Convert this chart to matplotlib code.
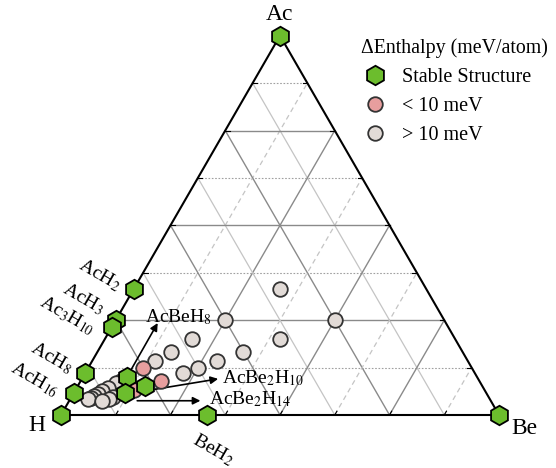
import numpy as np
import matplotlib.pyplot as plt
from matplotlib.lines import Line2D
from matplotlib.transforms import offset_copy

plt.rcParams['font.family'] = 'Liberation Serif'
plt.rcParams['mathtext.fontset'] = 'stix'

S = np.sqrt(3) / 2

# compositions as atom counts (Ac, Be, H)
stable_labels = ['Ac', 'Be', 'H', r'BeH$_2$', r'AcH$_2$', r'AcH$_3$', r'Ac$_3$H$_{10}$',
                 r'AcH$_8$', r'AcH$_{16}$', r'AcBeH$_8$', r'AcBe$_2$H$_{10}$', r'AcBe$_2$H$_{14}$']
stable_comp = [(1, 0, 0), (0, 1, 0), (0, 0, 1), (0, 1, 2), (1, 0, 2), (1, 0, 3), (3, 0, 10),
               (1, 0, 8), (1, 0, 16), (1, 1, 8), (1, 2, 10), (1, 2, 14)]

# metastable, within 10 meV/atom of the hull
near_comp = [(1, 1, 6), (1, 2, 8), (1, 2, 12)]

# above hull by more than 10 meV/atom
far_comp = [(1, 1, 1), (1, 1, 2), (1, 2, 1), (1, 1, 3), (1, 2, 2), (1, 2, 3), (1, 2, 4),
            (1, 2, 5), (1, 2, 6), (1, 1, 4), (1, 1, 5), (1, 1, 9), (1, 1, 10), (1, 1, 12),
            (1, 1, 14), (1, 1, 16), (1, 1, 18), (1, 1, 20), (1, 1, 22), (1, 2, 18),
            (1, 2, 20), (1, 2, 24)]

# label placement: (dx, dy) in points from the marker, rotation, ha
label_style = {
    'Ac': ((0, 15), 0, 'center'),
    'Be': ((18, -9.5), 0, 'center'),
    'H': ((-17.5, -7.5), 0, 'center'),
    r'BeH$_2$': ((-11.5, -20), -30, 'left'),
    r'AcH$_2$': ((-12.5, -1.5), -30, 'right'),
    r'AcH$_3$': ((-11.5, 4.5), -30, 'right'),
    r'Ac$_3$H$_{10}$': ((-15, -5.5), -30, 'right'),
    r'AcH$_8$': ((-12, -0.5), -30, 'right'),
    r'AcH$_{16}$': ((-13.5, -3.5), -30, 'right'),
    r'AcBeH$_8$': ((13, 39.5), 0, 'left'),
    r'AcBe$_2$H$_{10}$': ((55.5, 1.5), 0, 'left'),
    r'AcBe$_2$H$_{14}$': ((60, -8.5), 0, 'left'),
}
# arrows: (start offset, tip offset) in points from the marker
arrow_style = {
    r'AcBeH$_8$': ((3, 5), (22.3, 38.9)),
    r'AcBe$_2$H$_{10}$': ((7, -2.5), (52.5, 5)),
    r'AcBe$_2$H$_{14}$': ((8.5, -5.8), (54, -5.8)),
}


def tern(comp):
    ac, be, h = comp
    tot = ac + be + h
    a, b = ac / tot, be / tot
    return b + a / 2, a * S


fig = plt.figure(figsize=(5.56, 4.68), dpi=100)
ax = fig.add_axes([0, 0, 1, 1])
ax.set_xlim(-61 / 438, 495 / 438)
ax.set_ylim(-53 / 438, 415 / 438)
ax.axis('off')

# grid lines every 1/8, majors every 1/4
for t in np.arange(1, 8) / 8:
    major = (t * 4) % 1 == 0
    # constant Ac
    ac_line = ([t / 2, 1 - t / 2], [t * S, t * S])
    # constant Be
    be_line = ([t, t + (1 - t) / 2], [0, (1 - t) * S])
    # constant H
    h_line = ([1 - t, (1 - t) / 2], [0, (1 - t) * S])
    if major:
        for xs, ys in (ac_line, be_line, h_line):
            ax.plot(xs, ys, color='#8a8a8a', lw=1.0, zorder=1)
    else:
        ax.plot(*ac_line, color='#a0a0a0', lw=0.8, ls=(0, (1.5, 1.5)), zorder=1)
        ax.plot(*be_line, color='#c4c4c4', lw=0.9, ls=(0, (4, 3)), zorder=1)
        ax.plot(*h_line, color='#c4c4c4', lw=0.9, zorder=1)

    # small ticks on the edges
    tl = 0.01
    ax.plot([t / 2, t / 2 + tl], [t * S, t * S], color='black', lw=0.8, zorder=2)
    ax.plot([1 - t / 2, 1 - t / 2 - tl], [t * S, t * S], color='black', lw=0.8, zorder=2)
    ax.plot([t, t + tl / 2], [0, tl * S], color='black', lw=0.8, zorder=2)

# triangle outline
ax.plot([0, 1, 0.5, 0], [0, 0, S, 0], color='black', lw=1.5, zorder=2)

far_xy = np.array([tern(c) for c in far_comp])
near_xy = np.array([tern(c) for c in near_comp])
stable_xy = np.array([tern(c) for c in stable_comp])

ax.plot(far_xy[:, 0], far_xy[:, 1], 'o', ms=10.5, mfc='#e2dbd7', mec='#333333', mew=1.3, zorder=3)
ax.plot(near_xy[:, 0], near_xy[:, 1], 'o', ms=10.5, mfc='#e79e9e', mec='#333333', mew=1.3, zorder=4)

# arrows from the ternary compounds to their labels
for name, (start, tip) in arrow_style.items():
    x, y = stable_xy[stable_labels.index(name)]
    ax.annotate('', xy=(x, y), xycoords=offset_copy(ax.transData, fig=fig, x=tip[0], y=tip[1], units='points'),
                xytext=(x, y), textcoords=offset_copy(ax.transData, fig=fig, x=start[0], y=start[1], units='points'),
                arrowprops=dict(arrowstyle='-|>', color='black', lw=1.2, shrinkA=0, shrinkB=0,
                                mutation_scale=11), zorder=3)

ax.plot(stable_xy[:, 0], stable_xy[:, 1], 'h', ms=14, mfc='#6cbd2d', mec='black', mew=1.3, zorder=5)

for name, (x, y) in zip(stable_labels, stable_xy):
    (dx, dy), rot, ha = label_style[name]
    is_vertex = name in ('Ac', 'Be', 'H')
    ax.annotate(name, (x, y), xytext=(dx, dy), textcoords='offset points',
                fontsize=17 if is_vertex else 14, rotation=rot, rotation_mode='anchor',
                ha=ha, va='center' if is_vertex else 'baseline', zorder=6)

handles = [
    Line2D([], [], ls='none', marker='h', ms=14, mfc='#6cbd2d', mec='black', mew=1.3),
    Line2D([], [], ls='none', marker='o', ms=10.5, mfc='#e79e9e', mec='#333333', mew=1.3),
    Line2D([], [], ls='none', marker='o', ms=10.5, mfc='#e2dbd7', mec='#333333', mew=1.3),
]
ax.legend(handles, ['Stable Structure', '< 10 meV', '> 10 meV'],
          title='ΔEnthalpy (meV/atom)', title_fontsize=14.3, fontsize=14.5,
          frameon=False, loc='upper left', alignment='left',
          bbox_to_anchor=(361 / 556, 1 - 38 / 468), bbox_transform=fig.transFigure,
          borderpad=0, borderaxespad=0, handlelength=1.35, handletextpad=0.7, labelspacing=0.5)

fig.savefig('out.png', dpi=100)
